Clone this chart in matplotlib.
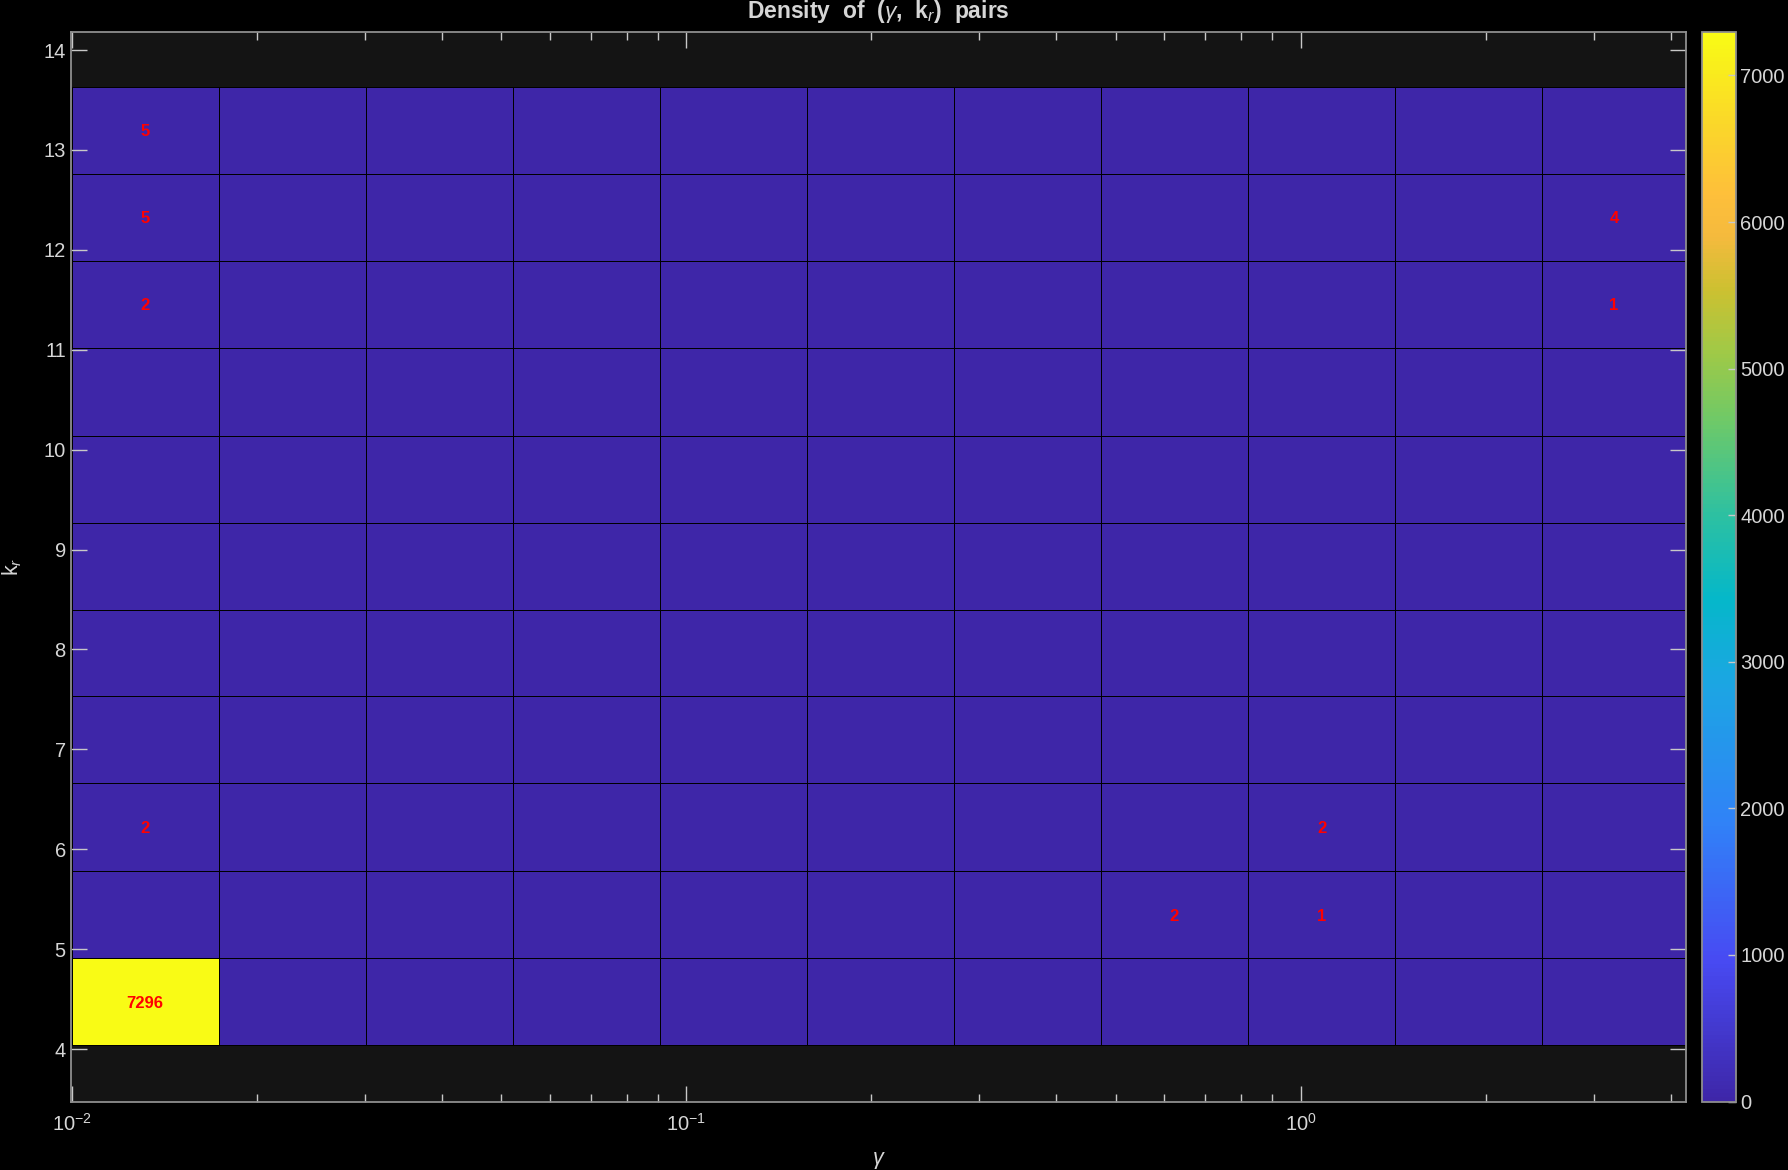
import matplotlib
matplotlib.use("Agg")
import matplotlib.pyplot as plt
import numpy as np
from matplotlib.colors import LinearSegmentedColormap
from matplotlib.ticker import LogLocator

plt.rcParams["font.family"] = ["Liberation Sans", "DejaVu Sans"]
plt.rcParams["mathtext.fontset"] = "custom"
plt.rcParams["mathtext.rm"] = "Liberation Sans"
plt.rcParams["mathtext.it"] = "Liberation Sans:italic"

# bin edges
gamma_edges = [0.01, 0.01735, 0.0301, 0.0522, 0.0906, 0.1572,
               0.2728, 0.4733, 0.821, 1.425, 2.472, 4.29]
kr_edges = [4.04, 4.91, 5.78, 6.66, 7.53, 8.40, 9.27,
            10.14, 11.02, 11.89, 12.76, 13.63]

# non-empty bins: (k_r row, gamma column, count)
cell_rows = [0, 1, 1, 2, 2, 8, 8, 9, 9, 10]
cell_cols = [0, 7, 8, 0, 8, 0, 10, 0, 10, 0]
cell_counts = [7296, 2, 1, 2, 2, 2, 1, 5, 4, 5]

cbar_ticks = [0, 1000, 2000, 3000, 4000, 5000, 6000, 7000]

BG = "#000000"
AX_BG = "#141414"
SPINE = "#8e8e8e"
TXT = "#d6d6d6"

# parula-like colormap
parula = LinearSegmentedColormap.from_list("parula", [
    (0.000, (0.2422, 0.1504, 0.6603)),
    (0.130, (0.2810, 0.2900, 0.9500)),
    (0.260, (0.1900, 0.5100, 0.9700)),
    (0.390, (0.1100, 0.6500, 0.8900)),
    (0.470, (0.0200, 0.7200, 0.7900)),
    (0.550, (0.1800, 0.7550, 0.6300)),
    (0.640, (0.4400, 0.7900, 0.4000)),
    (0.700, (0.6200, 0.7900, 0.2800)),
    (0.760, (0.8000, 0.7550, 0.1900)),
    (0.810, (0.9600, 0.7300, 0.2400)),
    (0.850, (0.9950, 0.7500, 0.2300)),
    (0.920, (0.9800, 0.8500, 0.1600)),
    (1.000, (0.9769, 0.9839, 0.0805)),
])

counts = np.zeros((len(kr_edges) - 1, len(gamma_edges) - 1))
for r, c, v in zip(cell_rows, cell_cols, cell_counts):
    counts[r, c] = v

fig = plt.figure(figsize=(17.88, 11.7), dpi=100, facecolor=BG)
ax = fig.add_axes([0.0395, 0.0585, 0.9035, 0.9141])
cax = fig.add_axes([0.952, 0.0585, 0.0187, 0.9141])
ax.set_facecolor(AX_BG)

mesh = ax.pcolormesh(gamma_edges, kr_edges, counts, cmap=parula,
                     vmin=0, vmax=max(cell_counts),
                     edgecolors="black", linewidth=0.7)

for r, c, v in zip(cell_rows, cell_cols, cell_counts):
    xc = np.sqrt(gamma_edges[c] * min(gamma_edges[c + 1], 4.24))
    yc = 0.5 * (kr_edges[r] + kr_edges[r + 1])
    ax.text(xc, yc, str(v), color="red", fontsize=12, fontweight="bold",
            ha="center", va="center_baseline")

ax.set_xscale("log")
ax.set_xlim(0.00996, 4.24)
ax.set_ylim(3.475, 14.18)
ax.set_yticks(range(4, 15))
ax.xaxis.set_major_locator(LogLocator(base=10, numticks=10))
ax.xaxis.set_minor_locator(LogLocator(base=10, subs=np.arange(2, 10), numticks=20))

ax.tick_params(which="both", direction="in", top=True, right=True,
               colors="#c8c8c8", labelcolor=TXT, width=1.0, labelsize=14.5)
ax.tick_params(which="major", length=11.5)
ax.tick_params(which="minor", length=5.8)
ax.tick_params(axis="x", which="major", pad=8)
for s in ax.spines.values():
    s.set_color(SPINE)
    s.set_linewidth(1.3)

ax.set_xlabel("γ", color=TXT, fontsize=15.5, style="italic", labelpad=10)
ax.set_ylabel("k$_r$", color=TXT, fontsize=15.5, labelpad=14)
fig.text(0.491, 0.9905, "Density  of  ($\\it{γ}$,  k$_r$)  pairs", color=TXT,
         fontsize=16.5, fontweight="bold", ha="center", va="center")

cb = fig.colorbar(mesh, cax=cax, ticks=cbar_ticks)
cb.outline.set_edgecolor(SPINE)
cb.outline.set_linewidth(1.3)
cax.tick_params(direction="in", length=6, width=1.0, colors="#c8c8c8",
                labelcolor=TXT, labelsize=14.5)

fig.savefig("out.png", dpi=100, facecolor=BG)
